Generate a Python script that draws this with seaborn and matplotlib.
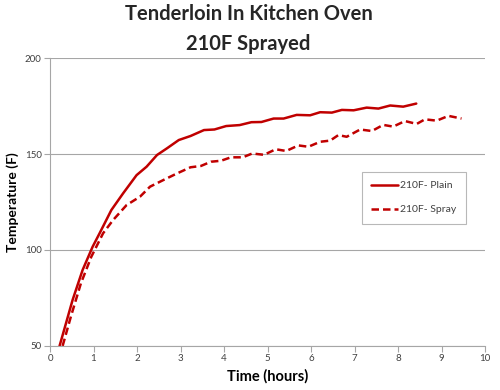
import matplotlib
matplotlib.use("Agg")
import matplotlib.pyplot as plt
import seaborn as sns
import pandas as pd

plain_hours = [0.22, 0.52, 0.75, 0.98, 1.14, 1.41, 1.68, 1.99, 2.22, 2.46, 2.69, 2.96, 3.23, 3.54, 3.78,
               4.05, 4.36, 4.63, 4.86, 5.14, 5.37, 5.67, 5.98, 6.21, 6.48, 6.71, 6.98, 7.28, 7.55, 7.82,
               8.12, 8.42]
plain_temp = [50, 74, 89.6, 101.7, 108.7, 120.8, 129.5, 139, 143.4, 149.5, 153, 157.3, 159.4, 162.5, 162.8,
              164.6, 165.1, 166.6, 166.7, 168.5, 168.5, 170.4, 170.2, 171.8, 171.6, 173, 172.8, 174.2, 173.7,
              175.3, 174.7, 176.3]

spray_hours = [0.29, 0.48, 0.71, 0.95, 1.22, 1.45, 1.76, 2.07, 2.30, 2.61, 2.92, 3.23, 3.47, 3.70, 3.93,
               4.16, 4.43, 4.65, 4.92, 5.19, 5.43, 5.71, 5.94, 6.21, 6.44, 6.63, 6.82, 7.13, 7.40, 7.66,
               7.89, 8.16, 8.43, 8.62, 8.89, 9.16, 9.46]
spray_temp = [50, 65.3, 82.6, 96.5, 108.7, 115.6, 123.4, 127.8, 133, 136.5, 139.9, 143.1, 143.8, 146, 146.5,
              148.3, 148.3, 150.3, 149.6, 152.5, 151.6, 154.5, 153.8, 156.4, 157, 159.9, 159, 162.8, 162,
              165.2, 164.3, 167.2, 165.7, 168.1, 167.4, 169.9, 168.5]

series_names = ["210F- Plain", "210F- Spray"]

df = pd.concat([
    pd.DataFrame({"Time": plain_hours, "Temp": plain_temp, "Series": series_names[0]}),
    pd.DataFrame({"Time": spray_hours, "Temp": spray_temp, "Series": series_names[1]}),
], ignore_index=True)

sns.set_theme(style="white")
plt.rcParams["font.family"] = ["Lato", "DejaVu Sans"]

fig = plt.figure(figsize=(5, 3.9), dpi=100)
ax = fig.add_axes([0.10, 0.113, 0.87, 0.738])

red = "#C00000"
sns.lineplot(data=df, x="Time", y="Temp", hue="Series", style="Series",
             palette=[red, red], dashes=[(None, None), (3, 1.6)],
             linewidth=1.8, sort=False, estimator=None, ax=ax)

ax.set_xlim(0, 10)
ax.set_ylim(50, 200)
ax.set_xticks(range(0, 11))
ax.set_yticks([50, 100, 150, 200])
ax.yaxis.grid(True, color="#A6A6A6", linewidth=0.8)
ax.xaxis.grid(False)
ax.set_axisbelow(True)
for s in ["top", "right"]:
    ax.spines[s].set_visible(False)
for s in ["left", "bottom"]:
    ax.spines[s].set_color("#A6A6A6")
    ax.spines[s].set_linewidth(0.8)
ax.tick_params(axis="both", which="major", length=4, width=0.8, color="#A6A6A6",
               labelsize=7, labelcolor="#404040", direction="out", pad=2)
ax.tick_params(axis="x", bottom=True)
ax.tick_params(axis="y", left=True)

ax.set_xlabel("Time (hours)", fontsize=10.5, fontweight="bold", color="black", labelpad=4)
ax.set_ylabel("Temperature (F)", fontsize=10, fontweight="bold", color="black", labelpad=4)

fig.suptitle("Tenderloin In Kitchen Oven\n210F Sprayed", fontsize=14.5, fontweight="bold",
             x=0.497, y=0.99, linespacing=1.6)

leg = ax.legend(loc="upper left", bbox_to_anchor=(0.717, 0.605), borderaxespad=0.0,
                frameon=True, fancybox=False,
                fontsize=7.5, labelspacing=1.4, handlelength=2.6, borderpad=0.9, handletextpad=0.2,
                title=None)
leg.get_frame().set_edgecolor("#A6A6A6")
leg.get_frame().set_linewidth(0.8)
for t in leg.get_texts():
    t.set_color("#404040")

fig.savefig("out.png", dpi=100, facecolor="white")
